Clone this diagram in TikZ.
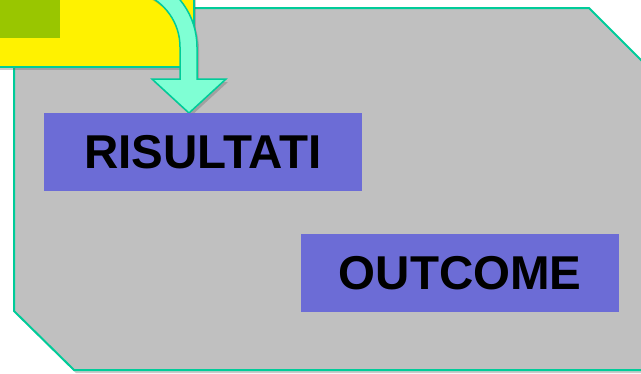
\documentclass[tikz,border=0pt]{standalone}
\usepackage{fontspec}
\setmainfont{Liberation Sans}
\usetikzlibrary{shadows}
\definecolor{teal2}{RGB}{0,204,153}
\definecolor{grayfill}{RGB}{192,192,192}
\definecolor{aqua}{RGB}{127,255,212}
\definecolor{boxblue}{RGB}{108,108,214}
\definecolor{leaf}{RGB}{153,198,0}
\tikzset{
  outline/.style={draw=teal2, line width=2pt, line join=miter},
  shade/.style={drop shadow={shadow xshift=2pt, shadow yshift=-3pt, opacity=0.35, fill=black!60}},
  labelbox/.style={fill=boxblue, inner sep=0pt, anchor=north west,
    font=\fontsize{47.5}{47.5}\selectfont\bfseries, text=black}
}
\begin{document}
\begin{tikzpicture}[x=1pt,y=-1pt]
\useasboundingbox (0,0) rectangle (641,373);
\clip (0,0) rectangle (641,373);
% gray panel
\path[fill=grayfill, outline, shade] (74,8) -- (589,8) -- (720,139) -- (720,370) -- (74,370) -- (14,311) -- (14,68) -- cycle;
% yellow panel
\path[fill=yellow, outline, shade] (-10,-10) rectangle (194,67);
\node[fill=leaf, inner sep=0pt, minimum width=70pt, minimum height=48pt, anchor=south east] (green) at (60,38) {};
% bent arrow
\path[fill=aqua, draw=teal2, line width=1.5pt, line join=miter, shade]
  (142.5,-6.6) arc[start angle=70, end angle=0, radius=57pt]
  -- (180,79) -- (152,79) -- (189,113) -- (226,79) -- (197,79) -- (197,47)
  arc[start angle=0, end angle=70, radius=74pt] -- cycle;
% label boxes
\node[labelbox, minimum width=318pt, minimum height=78pt] (ris) at (44,113) {RISULTATI};
\node[labelbox, minimum width=318pt, minimum height=78pt] (out) at (301,234) {OUTCOME};
\end{tikzpicture}
\end{document}
